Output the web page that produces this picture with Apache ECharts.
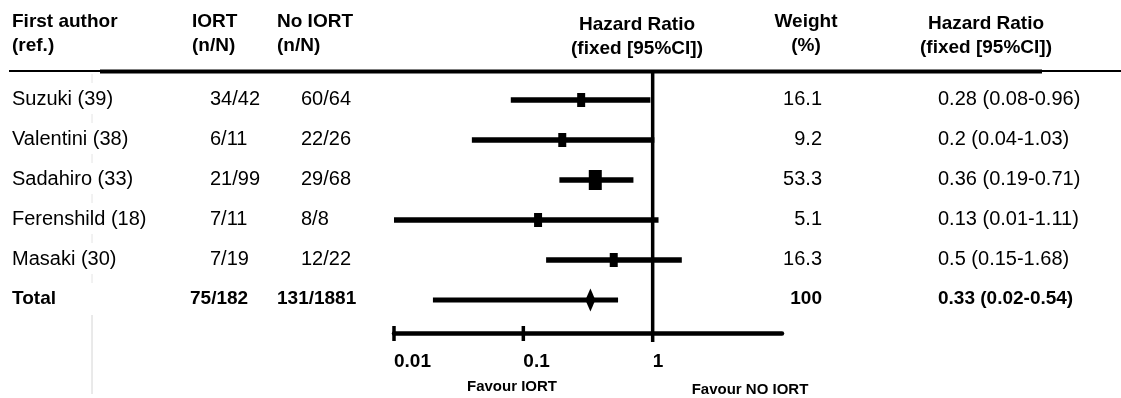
<!DOCTYPE html>
<html>
<head>
<meta charset="utf-8">
<title>Forest plot: IORT vs No IORT</title>
<script src="https://cdn.jsdelivr.net/npm/echarts@6/dist/echarts.min.js"></script>
<style>
  html, body { margin: 0; padding: 0; background: #ffffff; }
  #chart { width: 1121px; height: 398px; }
</style>
</head>
<body>
<div id="chart"></div>
<script>
// Study-level data
const studies = ['Suzuki (39)', 'Valentini (38)', 'Sadahiro (33)', 'Ferenshild (18)', 'Masaki (30)'];
const iortEvents = ['34/42', '6/11', '21/99', '7/11', '7/19'];
const noIortEvents = ['60/64', '22/26', '29/68', '8/8', '12/22'];
const hazardRatio = [0.28, 0.2, 0.36, 0.13, 0.5];
const ciLow = [0.08, 0.04, 0.19, 0.01, 0.15];
const ciHigh = [0.96, 1.03, 0.71, 1.11, 1.68];
const weights = [16.1, 9.2, 53.3, 5.1, 16.3];

// Pooled estimate
const totalLabel = 'Total';
const totalIort = '75/182';
const totalNoIort = '131/1881';
const totalHR = 0.33;
const totalLow = 0.02;
const totalHigh = 0.54;
const totalWeight = 100;

// Axis ticks
const tickValues = [0.01, 0.1, 1];
const tickLabels = ['0.01', '0.1', '1'];
const favourLabels = ['Favour IORT', 'Favour NO IORT'];

// Column headers
const headerAuthor = ['First author', '(ref.)'];
const headerIort = ['IORT', '(n/N)'];
const headerNoIort = ['No IORT', '(n/N)'];
const headerPlot = ['Hazard Ratio', '(fixed [95%CI])'];
const headerWeight = ['Weight', '(%)'];
const headerHR = ['Hazard Ratio', '(fixed [95%CI])'];

const FONT = '"Liberation Sans", Arial, Helvetica, sans-serif';
const INK = '#000000';

// Rows: studies then the pooled total
const rows = [];
for (let i = 0; i < studies.length; i++) {
  rows.push({
    name: studies[i], iort: iortEvents[i], noIort: noIortEvents[i],
    hr: hazardRatio[i], lo: ciLow[i], hi: ciHigh[i], w: weights[i], total: false
  });
}
rows.push({
  name: totalLabel, iort: totalIort, noIort: totalNoIort,
  hr: totalHR, lo: totalLow, hi: totalHigh, w: totalWeight, total: true
});

const fmtHR = r => `${r.hr} (${r.lo}-${r.hi})`;

// Vertical value range: rows sit at 0..5, axis line just below the last row
const Y_MIN = -0.7;
const Y_AXIS = 5.825;

function markerSize(w) {
  return w > 50 ? [13, 20] : [8, 14];
}

const chart = echarts.init(document.getElementById('chart'), null, { renderer: 'canvas' });

function headerText(lines, x, align, y0) {
  return lines.map((t, k) => ({
    type: 'text',
    x: x, y: y0 + k * 24,
    style: {
      text: t, fill: INK, font: `bold 19px ${FONT}`,
      align: align, verticalAlign: 'middle'
    }
  }));
}

// dashed faint column guide between the author and count columns
const guide = [];
for (let y = 74; y < 312; y += 40) {
  guide.push({ type: 'line', shape: { x1: 92, y1: y, x2: 92, y2: y + 9 }, style: { stroke: '#e4e4e4', lineWidth: 1 } });
}

const graphics = [].concat(
  headerText(headerAuthor, 12, 'left', 22),
  headerText(headerIort, 192, 'left', 22),
  headerText(headerNoIort, 277, 'left', 22),
  headerText(headerPlot, 637, 'center', 25),
  headerText(headerWeight, 806, 'center', 22),
  headerText(headerHR, 986, 'center', 24),
  guide,
  [
    // header rule
    { type: 'line', shape: { x1: 9, y1: 71, x2: 100, y2: 71 }, style: { stroke: INK, lineWidth: 2 } },
    { type: 'line', shape: { x1: 100, y1: 71.5, x2: 1042, y2: 71.5 }, style: { stroke: INK, lineWidth: 4 } },
    { type: 'line', shape: { x1: 1042, y1: 71, x2: 1121, y2: 71 }, style: { stroke: INK, lineWidth: 2 } },
    { type: 'line', shape: { x1: 92, y1: 315, x2: 92, y2: 394 }, style: { stroke: '#d4d4d4', lineWidth: 1 } },
    // favour captions
    { type: 'text', x: 512, y: 387, style: { text: favourLabels[0], fill: INK, font: `bold 15px ${FONT}`, align: 'center', verticalAlign: 'middle' } },
    { type: 'text', x: 750, y: 390, style: { text: favourLabels[1], fill: INK, font: `bold 15px ${FONT}`, align: 'center', verticalAlign: 'middle' } }
  ]
);

const option = {
  backgroundColor: '#ffffff',
  animation: false,
  grid: { left: 394, right: 339, top: 72, bottom: 65, containLabel: false },
  xAxis: {
    type: 'log',
    logBase: 10,
    min: 0.01,
    max: 10,
    axisLine: { show: true, onZero: false, lineStyle: { color: INK, width: 4.5 } },
    axisTick: { show: false },
    splitLine: { show: false },
    axisLabel: {
      show: true,
      margin: 19,
      align: 'left',
      color: INK,
      fontFamily: FONT,
      fontWeight: 'bold',
      fontSize: 19,
      showMinLabel: true,
      showMaxLabel: true,
      formatter: function (v) {
        for (let k = 0; k < tickValues.length; k++) {
          if (Math.abs(Math.log10(v) - Math.log10(tickValues[k])) < 1e-6) return tickLabels[k];
        }
        return '';
      }
    }
  },
  yAxis: {
    type: 'value',
    inverse: true,
    min: Y_MIN,
    max: Y_AXIS,
    show: false
  },
  graphic: graphics,
  series: [
    {
      // reference line at HR = 1 and decade ticks on the axis
      type: 'custom',
      clip: false,
      silent: true,
      data: [[1, 0]],
      renderItem: function (params, api) {
        const top = api.coord([1, Y_MIN]);
        const bot = api.coord([1, Y_AXIS]);
        const children = [{
          type: 'line',
          shape: { x1: top[0], y1: top[1], x2: bot[0], y2: bot[1] + 9 },
          style: { stroke: INK, lineWidth: 3.5 }
        }];
        tickValues.forEach(function (t) {
          if (t === 1) return;
          const p = api.coord([t, Y_AXIS]);
          children.push({
            type: 'line',
            shape: { x1: p[0], y1: p[1] - 7, x2: p[0], y2: p[1] + 8 },
            style: { stroke: INK, lineWidth: 3.5 }
          });
        });
        return { type: 'group', children: children };
      }
    },
    {
      // confidence intervals and point estimates
      type: 'custom',
      clip: false,
      silent: true,
      data: rows.map((r, i) => [i, r.hr, r.lo, r.hi, r.w]),
      renderItem: function (params, api) {
        const i = api.value(0);
        const r = rows[params.dataIndex];
        const pLo = api.coord([api.value(2), i]);
        const pHi = api.coord([api.value(3), i]);
        const p = api.coord([api.value(1), i]);
        const children = [{
          type: 'line',
          shape: { x1: pLo[0], y1: pLo[1], x2: pHi[0], y2: pHi[1] },
          style: { stroke: INK, lineWidth: r.total ? 5 : 5.5 }
        }];
        if (r.total) {
          children.push({
            type: 'polygon',
            shape: { points: [[p[0], p[1] - 11.5], [p[0] + 5, p[1]], [p[0], p[1] + 11.5], [p[0] - 5, p[1]]] },
            style: { fill: INK }
          });
        } else {
          const s = markerSize(api.value(4));
          children.push({
            type: 'rect',
            shape: { x: p[0] - s[0] / 2, y: p[1] - s[1] / 2, width: s[0], height: s[1] },
            style: { fill: INK }
          });
        }
        return { type: 'group', children: children };
      }
    },
    {
      // table text for each row
      type: 'custom',
      clip: false,
      silent: true,
      data: rows.map((r, i) => [1, i]),
      renderItem: function (params, api) {
        const r = rows[params.dataIndex];
        const y = api.coord([1, api.value(1)])[1] - 1;
        const font = r.total ? `bold 19px ${FONT}` : `20px ${FONT}`;
        const cell = (text, x, align) => ({
          type: 'text', x: x, y: y,
          style: { text: text, fill: INK, font: font, align: align, verticalAlign: 'middle' }
        });
        return {
          type: 'group',
          children: [
            cell(r.name, 12, 'left'),
            cell(r.iort, r.total ? 190 : 210, 'left'),
            cell(r.noIort, r.total ? 277 : 301, 'left'),
            cell(String(r.w), 822, 'right'),
            cell(fmtHR(r), 938, 'left')
          ]
        };
      }
    }
  ]
};

chart.setOption(option);
</script>
</body>
</html>
